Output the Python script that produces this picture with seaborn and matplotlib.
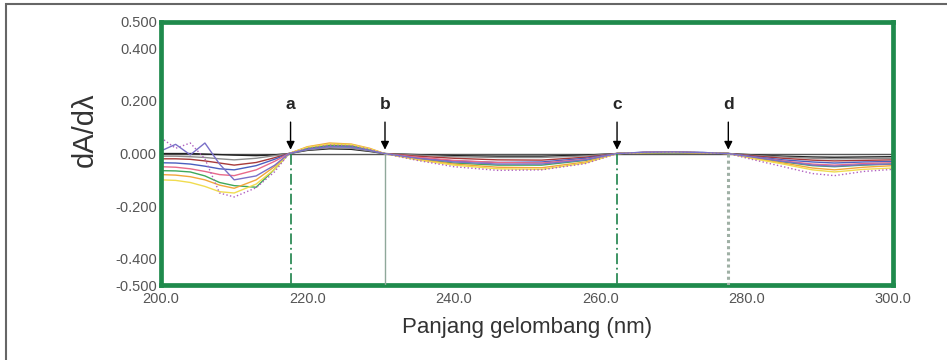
import numpy as np
import pandas as pd
import matplotlib
matplotlib.use('Agg')
import matplotlib.pyplot as plt
import seaborn as sns
from matplotlib.patches import Rectangle

# wavelength grid (nm) and derivative spectra
wavelength = [200, 202, 204, 206, 208, 210, 213, 215.5, 217.5, 220, 223, 226, 228.5, 230.5,
              235, 240, 246, 252, 258, 262.3, 266, 270, 274, 277.5, 281, 285, 289, 292, 296, 300]

black = [0.000, 0.000, 0.000, -0.002, -0.004, -0.006, -0.008, -0.005, 0.000, 0.012, 0.018, 0.016, 0.008, 0.000,
         -0.004, -0.008, -0.010, -0.010, -0.006, 0.000, 0.002, 0.003, 0.002, 0.000, -0.005, -0.010, -0.013, -0.014, -0.013, -0.012]
gray = [-0.010, -0.010, -0.012, -0.015, -0.020, -0.024, -0.018, -0.008, 0.000, 0.014, 0.022, 0.020, 0.010, 0.000,
        -0.006, -0.012, -0.015, -0.015, -0.009, 0.000, 0.003, 0.004, 0.002, 0.000, -0.007, -0.013, -0.018, -0.020, -0.019, -0.018]
darkred = [-0.020, -0.020, -0.022, -0.028, -0.036, -0.044, -0.034, -0.016, 0.000, 0.020, 0.030, 0.028, 0.014, 0.000,
           -0.010, -0.018, -0.024, -0.025, -0.014, 0.000, 0.004, 0.005, 0.003, 0.000, -0.009, -0.018, -0.025, -0.028, -0.026, -0.024]
blue = [-0.035, -0.036, -0.040, -0.048, -0.058, -0.062, -0.046, -0.022, 0.000, 0.018, 0.028, 0.026, 0.014, 0.000,
        -0.016, -0.028, -0.034, -0.032, -0.018, 0.000, 0.005, 0.006, 0.004, 0.000, -0.012, -0.024, -0.032, -0.036, -0.032, -0.030]
pink = [-0.050, -0.052, -0.058, -0.068, -0.080, -0.084, -0.062, -0.030, 0.000, 0.022, 0.034, 0.032, 0.016, 0.000,
        -0.014, -0.026, -0.034, -0.036, -0.022, 0.000, 0.004, 0.005, 0.003, 0.000, -0.014, -0.028, -0.040, -0.044, -0.038, -0.035]
green = [-0.065, -0.066, -0.070, -0.085, -0.110, -0.122, -0.128, -0.060, 0.000, 0.020, 0.030, 0.028, 0.014, 0.000,
         -0.020, -0.036, -0.044, -0.044, -0.026, 0.000, 0.003, 0.004, 0.003, 0.000, -0.016, -0.032, -0.046, -0.050, -0.044, -0.040]
orange = [-0.080, -0.082, -0.088, -0.100, -0.120, -0.132, -0.100, -0.050, 0.000, 0.026, 0.040, 0.036, 0.020, 0.000,
          -0.022, -0.040, -0.052, -0.054, -0.032, 0.000, 0.004, 0.005, 0.003, 0.000, -0.018, -0.036, -0.055, -0.062, -0.052, -0.046]
yellow = [-0.100, -0.102, -0.110, -0.125, -0.145, -0.150, -0.116, -0.060, 0.000, 0.024, 0.036, 0.034, 0.018, 0.000,
          -0.024, -0.044, -0.058, -0.060, -0.036, 0.000, 0.003, 0.004, 0.003, 0.000, -0.020, -0.040, -0.062, -0.070, -0.060, -0.055]
violet = [0.060, 0.020, 0.040, -0.020, -0.150, -0.165, -0.130, -0.070, 0.000, 0.020, 0.032, 0.030, 0.016, 0.000,
          -0.026, -0.050, -0.064, -0.062, -0.038, 0.000, 0.004, 0.006, 0.003, 0.000, -0.024, -0.050, -0.076, -0.084, -0.068, -0.060]
purple = [0.010, 0.035, -0.005, 0.040, -0.040, -0.100, -0.085, -0.045, 0.000, 0.016, 0.026, 0.024, 0.012, 0.000,
          -0.018, -0.032, -0.040, -0.040, -0.024, 0.000, 0.005, 0.006, 0.004, 0.000, -0.014, -0.030, -0.044, -0.048, -0.042, -0.040]

series = {'black': black, 'gray': gray, 'darkred': darkred, 'blue': blue, 'pink': pink,
          'green': green, 'orange': orange, 'yellow': yellow, 'violet': violet, 'purple': purple}
colors = {'black': '#222222', 'gray': '#8c8c8c', 'darkred': '#a83a3a', 'blue': '#4a5fc0', 'pink': '#e86a8a',
          'green': '#3fa85a', 'orange': '#f2a63a', 'yellow': '#f0dc50', 'violet': '#b060c0', 'purple': '#7a70c8'}
dotted = ['violet']

# zero-crossing markers
marker_x = [217.7, 230.6, 262.3, 277.5]
marker_lbl = ['a', 'b', 'c', 'd']
marker_style = [('#2e8b57', (0, (6, 2, 1, 2)), 1.3), ('#8fa89a', '-', 1.0),
                ('#2e8b57', (0, (6, 2, 1, 2)), 1.3), ('#9fb0a5', (0, (1, 1)), 2.2)]

df = pd.DataFrame({'wl': wavelength * len(series),
                   'val': sum(series.values(), []),
                   'name': np.repeat(list(series.keys()), len(wavelength))})

sns.set_style('white')
plt.rcParams['font.family'] = ['Liberation Sans', 'DejaVu Sans']

fig = plt.figure(figsize=(9.47, 3.6), dpi=100)
ax = fig.add_axes([0.170, 0.208, 0.773, 0.731])

for name in series:
    sub = df[df['name'] == name]
    sns.lineplot(data=sub, x='wl', y='val', ax=ax, color=colors[name], linewidth=1.0,
                 linestyle=':' if name in dotted else '-', legend=False)

ax.axhline(0, color='#555555', lw=1.0, zorder=1)

for xm, lb, (c, ls, lw) in zip(marker_x, marker_lbl, marker_style):
    ax.plot([xm, xm], [0, -0.5], color=c, linestyle=ls, lw=lw, zorder=3)
    ax.annotate('', xy=(xm, 0.004), xytext=(xm, 0.13),
                arrowprops=dict(arrowstyle='-|>', color='black', lw=1.0, mutation_scale=12))
    ax.text(xm, 0.185, lb, ha='center', va='center', fontsize=12.5, fontweight='bold')

ax.set_xlim(200, 300)
ax.set_ylim(-0.5, 0.5)
ax.set_xticks([200, 220, 240, 260, 280, 300])
ax.set_xticklabels([f'{v:.1f}' for v in [200, 220, 240, 260, 280, 300]])
ax.set_yticks([-0.5, -0.4, -0.2, 0.0, 0.2, 0.4, 0.5])
ax.set_yticklabels([f'{v:.3f}' for v in [-0.5, -0.4, -0.2, 0.0, 0.2, 0.4, 0.5]])
ax.tick_params(axis='both', which='major', length=0, labelsize=10.5, labelcolor='#555555')
ax.tick_params(axis='x', which='major', pad=5)
ax.tick_params(axis='y', which='major', pad=3)
ax.set_xticks([220, 240, 260, 280], minor=True)
ax.set_yticks([-0.4, -0.2, 0.2, 0.4], minor=True)
ax.tick_params(which='minor', direction='in', length=5, width=1.2, color='#333333',
               top=True, right=True, bottom=True, left=True)

for sp in ax.spines.values():
    sp.set_visible(True)
    sp.set_color('#1f8a4c')
    sp.set_linewidth(3.4)

ax.set_xlabel('Panjang gelombang (nm)', fontsize=16, color='#333333', labelpad=8)
ax.set_ylabel('dA/dλ', fontsize=21, color='#333333', labelpad=8)
ax.yaxis.set_label_coords(-0.085, 0.59)

fig.add_artist(Rectangle((6 / 947, -0.2), 1.2, 1.2 - 4 / 360, transform=fig.transFigure,
                         fill=False, edgecolor='#666666', lw=1.5))

fig.savefig('out.png', dpi=100)
